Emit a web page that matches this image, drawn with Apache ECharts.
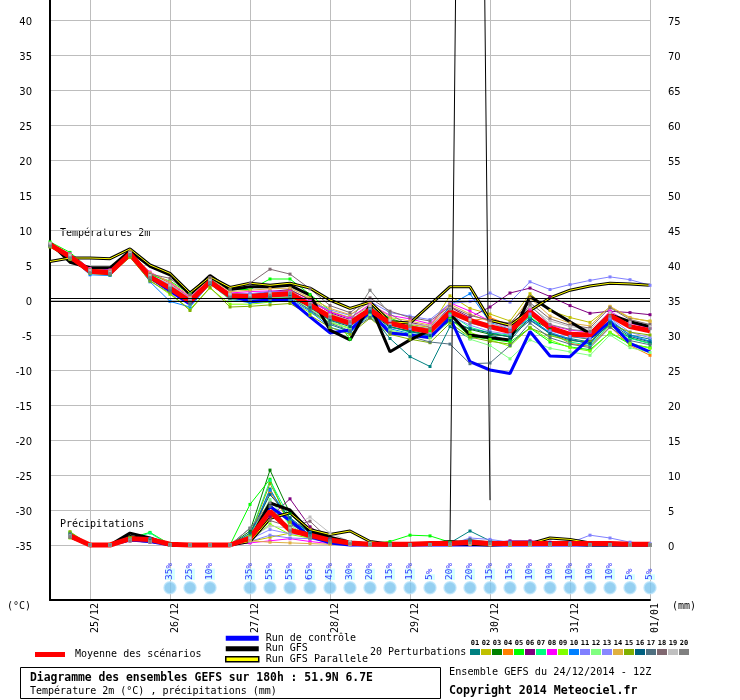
<!DOCTYPE html>
<html>
<head>
<meta charset="utf-8">
<script src="https://cdn.jsdelivr.net/npm/echarts@6/dist/echarts.min.js"></script>
<style>
  html, body { margin: 0; padding: 0; background: #fff; }
  #chart { width: 740px; height: 700px; }
</style>
</head>
<body>
<div id="chart"></div>
<script>
const FONT = 'DejaVu Sans Mono';

// echéances toutes les 6h depuis le 24/12 12Z
const steps = [
  '24/12 12h', '24/12 18h',
  '25/12 00h', '25/12 06h', '25/12 12h', '25/12 18h',
  '26/12 00h', '26/12 06h', '26/12 12h', '26/12 18h',
  '27/12 00h', '27/12 06h', '27/12 12h', '27/12 18h',
  '28/12 00h', '28/12 06h', '28/12 12h', '28/12 18h',
  '29/12 00h', '29/12 06h', '29/12 12h', '29/12 18h',
  '30/12 00h', '30/12 06h', '30/12 12h', '30/12 18h',
  '31/12 00h', '31/12 06h', '31/12 12h', '31/12 18h',
  '01/01 00h'
];
const tempTicks = [-35, -30, -25, -20, -15, -10, -5, 0, 5, 10, 15, 20, 25, 30, 35, 40];
const precTicks = [0, 5, 10, 15, 20, 25, 30, 35, 40, 45, 50, 55, 60, 65, 70, 75];

const pertColors = ['#008080', '#c0c000', '#008000', '#ff8000', '#00ff00', '#800080', '#00ff80',
  '#ff00ff', '#80ff00', '#0080ff', '#8080ff', '#80ff80', '#8888ff', '#e0b040', '#80b000',
  '#006080', '#507080', '#806870', '#c0c0c0', '#808080'];

// températures 2m (°C)
const tMean = [7.9, 6.2, 4.1, 3.9, 6.6, 3.3, 1.7, -0.2, 2.6, 0.6, 0.5, 0.7, 0.9, -0.7, -2.4, -3.3, -1.4, -3.3, -4.0, -4.5, -1.7, -2.9, -3.8, -4.5, -1.7, -4.0, -4.9, -5.0, -2.2, -3.8, -4.4];
const tCtrl = [7.9, 6.0, 4.2, 3.8, 6.6, 3.2, 1.3, -0.6, 2.8, 0.6, -0.2, 0.0, 0.0, -2.4, -4.7, -4.3, -1.7, -4.7, -5.0, -5.4, -2.5, -8.8, -10.0, -10.5, -4.5, -8.0, -8.1, -5.4, -3.1, -6.2, -7.4];
const tGfs = [8.2, 5.4, 4.6, 4.6, 7.0, 4.8, 3.6, 0.8, 3.5, 1.5, 1.9, 1.9, 2.1, 0.7, -4.3, -5.7, -0.7, -7.4, -5.7, -4.3, -2.0, -5.0, -5.4, -5.7, 0.5, -1.4, -3.1, -4.8, -2.1, -3.1, -3.8];
const tGfsP = [5.5, 6.0, 6.0, 5.9, 7.3, 5.0, 3.8, 1.0, 3.3, 1.8, 2.4, 2.1, 2.4, 1.7, 0.0, -1.2, -0.3, -3.1, -3.3, -0.7, 1.9, 1.9, -2.9, -3.6, -1.5, 0.3, 1.4, 2.0, 2.4, 2.3, 2.1];
const tPerts = [
  [7.8, 6.3, 4.0, 3.8, 6.5, 3.0, 1.2, -0.5, 2.4, 0.3, 0.0, 0.5, 0.6, -1.5, -3.5, -4.5, -2.0, -5.5, -8.1, -9.5, -3.8, -5.5, -5.0, -5.8, -2.5, -4.8, -5.5, -6.0, -3.0, -5.0, -5.6],
  [8.0, 6.4, 4.3, 4.2, 6.8, 3.8, 2.4, 0.3, 2.9, 0.9, 0.8, 1.0, 1.3, 0.2, -1.6, -2.5, -0.9, -2.8, -3.5, -3.9, 0.6, -1.2, -2.0, -3.0, 0.9, -1.5, -2.5, -3.2, -1.0, -2.6, -3.0],
  [7.7, 6.0, 4.1, 3.7, 6.4, 3.4, 1.9, -0.4, 2.5, 0.2, 0.3, 0.2, 0.4, -1.0, -2.8, -3.6, -1.8, -3.9, -4.4, -5.0, -3.0, -4.2, -4.9, -5.2, -2.6, -4.2, -5.2, -5.6, -3.6, -5.4, -6.2],
  [7.9, 6.2, 4.2, 4.0, 6.7, 3.5, 2.0, -0.1, 2.7, 0.8, 0.6, 1.1, 1.4, -0.5, -2.0, -3.0, -1.0, -3.5, -3.9, -4.6, -0.8, -3.0, -2.5, -3.6, -1.2, -4.6, -6.2, -6.6, -3.8, -6.5, -7.9],
  [8.3, 6.8, 4.4, 3.6, 6.3, 3.6, 2.7, 0.9, 3.0, 1.5, 1.5, 3.0, 3.0, 0.8, -1.5, -5.6, -1.0, -2.6, -3.6, -4.4, -2.6, -5.2, -5.6, -6.0, -4.0, -6.0, -6.7, -7.1, -4.7, -6.3, -6.8],
  [7.8, 6.1, 4.0, 3.9, 6.6, 3.2, 1.5, -0.3, 2.6, 0.5, 0.7, 1.2, 1.5, 0.0, -1.8, -2.8, -1.2, -3.0, -3.2, -3.8, -1.0, -2.5, -1.0, 1.0, 1.7, 0.5, -0.8, -1.9, -1.6, -1.8, -2.1],
  [8.1, 6.5, 4.3, 4.1, 6.6, 3.4, 1.8, 0.1, 2.7, 0.7, 0.4, 0.6, 0.8, -1.1, -2.7, -3.6, -1.3, -3.8, -4.6, -4.9, -2.0, -3.9, -4.7, -5.0, -2.3, -4.9, -6.0, -6.5, -3.5, -5.5, -6.2],
  [8.0, 6.6, 4.5, 4.3, 6.8, 4.0, 2.5, 0.4, 2.9, 1.0, 1.2, 1.3, 1.2, -0.2, -1.7, -2.6, -0.6, -2.2, -2.7, -3.4, -0.4, -1.6, -3.0, -3.9, -1.3, -3.6, -4.3, -4.6, -1.6, -3.3, -4.0],
  [7.6, 5.9, 3.9, 3.6, 6.2, 2.8, 0.8, -1.3, 1.7, -0.6, -0.6, -0.3, -0.1, -1.8, -3.2, -4.0, -2.3, -4.5, -5.0, -5.4, -2.8, -4.6, -5.7, -6.6, -3.9, -5.7, -6.8, -7.3, -4.6, -6.2, -6.9],
  [7.9, 6.1, 3.6, 3.5, 6.4, 2.6, -0.2, -1.0, 2.3, 0.1, -0.4, -0.2, 0.1, -1.6, -3.9, -4.7, -2.1, -4.1, -4.8, -5.2, -0.7, 0.9, -3.2, -4.2, -2.8, -4.6, -5.6, -6.3, -2.8, -5.0, -5.9],
  [8.0, 6.3, 4.2, 4.0, 6.7, 3.6, 2.2, 0.2, 2.8, 0.9, 0.9, 1.2, 1.1, -0.3, -1.4, -2.2, -0.2, -1.8, -2.3, -2.8, -0.5, -0.2, 1.0, -0.3, 2.6, 1.5, 2.2, 2.8, 3.3, 2.9, 2.1],
  [7.7, 6.0, 3.9, 3.8, 6.5, 3.1, 1.6, -0.7, 2.4, 0.0, 0.1, 0.3, 0.4, -1.3, -3.0, -4.2, -2.2, -4.3, -4.9, -5.3, -3.1, -5.6, -6.5, -8.4, -5.7, -6.9, -7.4, -7.9, -5.0, -6.8, -7.5],
  [7.8, 6.2, 4.1, 3.9, 6.6, 3.3, 1.8, 0.0, 2.6, 0.4, 0.2, 0.5, 0.7, -0.9, -2.6, -3.4, -1.4, -3.6, -4.2, -4.8, -2.2, -3.6, -4.5, -4.9, -2.0, -4.4, -5.2, -5.5, -2.6, -4.6, -5.4],
  [8.1, 6.5, 4.4, 4.2, 6.9, 3.9, 2.6, 0.6, 3.1, 1.2, 1.4, 1.6, 1.7, 0.3, -1.2, -2.1, -0.3, -2.5, -3.0, -3.6, -0.6, -2.0, -3.1, -3.6, 0.3, -2.3, -3.3, -3.7, -0.9, -2.5, -3.1],
  [7.6, 5.8, 3.8, 3.6, 6.1, 2.7, 1.0, -1.5, 1.8, -1.0, -0.9, -0.7, -0.5, -2.2, -3.9, -4.9, -2.6, -4.9, -5.6, -6.1, -3.3, -5.3, -5.9, -6.3, -4.0, -5.1, -5.8, -6.0, -3.4, -4.6, -5.0],
  [7.9, 6.2, 4.1, 3.9, 6.6, 3.3, 1.6, -0.3, 2.6, 0.5, 0.3, 0.5, 0.8, -1.1, -2.9, -3.8, -1.6, -3.8, -4.5, -5.1, -2.9, -4.1, -4.7, -5.3, -2.9, -4.8, -5.7, -6.2, -3.3, -5.2, -6.0],
  [7.8, 6.1, 4.0, 3.7, 6.4, 3.0, 1.3, -0.6, 2.3, 0.2, -0.1, 0.2, 0.3, -1.4, -3.3, -4.4, -2.5, -4.6, -5.2, -6.0, -6.3, -9.1, -9.0, -6.5, -3.3, -5.4, -6.3, -6.8, -3.9, -5.8, -6.4],
  [8.0, 6.4, 4.3, 4.1, 6.8, 3.7, 3.1, 0.8, 3.2, 1.5, 2.4, 4.4, 3.7, 1.6, -0.8, -1.8, 0.3, -1.6, -2.5, -3.0, -0.9, -2.2, -2.9, -3.3, -0.4, -2.7, -3.6, -4.0, -1.1, -2.8, -3.5],
  [8.1, 6.4, 4.2, 4.0, 6.7, 3.5, 2.1, 0.2, 2.8, 0.8, 0.6, 0.9, 1.0, -0.4, -2.1, -2.9, -0.8, -2.9, -3.4, -3.7, -1.2, -2.8, -3.4, -3.9, -1.0, -3.0, -3.8, -4.2, -1.8, -3.2, -3.8],
  [7.7, 6.0, 3.9, 3.8, 6.5, 3.2, 1.7, -0.2, 2.5, 0.4, 0.3, 0.7, 1.0, -0.6, -2.4, -3.1, 1.4, -2.0, -3.7, -4.1, -1.3, -3.3, -4.0, -4.4, -0.7, -3.5, -4.2, -4.5, -2.3, -3.7, -4.1]
];

// précipitations (mm / 6h)
const pMean = [null, 1.3, 0, 0, 0.9, 0.8, 0.1, 0, 0, 0, 1.0, 4.8, 2.1, 1.4, 0.7, 0.3, 0.1, 0.1, 0.1, 0.2, 0.2, 0.4, 0.2, 0.2, 0.2, 0.2, 0.2, 0.2, 0.2, 0.1, 0.1];
const pCtrl = [null, 1.2, 0, 0, 0.7, 0.5, 0, 0, 0, 0, 0.9, 5.5, 3.5, 1.2, 0.3, 0, 0, 0, 0, 0, 0, 0, 0, 0, 0, 0, 0, 0, 0, 0, 0];
const pGfs = [null, 1.4, 0, 0, 1.7, 1.0, 0, 0, 0, 0, 0.8, 6.0, 5.0, 1.9, 1.1, 0.4, 0.1, 0, 0, 0.2, 0.5, 0.3, 0.2, 0.2, 0.3, 0.2, 0.1, 0, 0, 0, 0];
const pGfsP = [null, 1.2, 0, 0, 1.2, 0.8, 0, 0, 0, 0, 0.5, 3.8, 4.6, 2.2, 1.5, 2.0, 0.5, 0.1, 0.1, 0.1, 0.2, 0.1, 0, 0.1, 0.2, 1.0, 0.8, 0.3, 0.2, 0.1, 0.1];
const pSpike = [null, null, null, null, null, null, null, null, null, null, null, null, null, null, null, null, null, null, null, null, 0.7, 280, 6.4, null, null, null, null, null, null, null, null];
const pPerts = [
  [null, 1.3, 0, 0, 0.8, 0.6, 0.1, 0, 0, 0, 1.2, 8.0, 3.0, 1.5, 0.9, 0.5, 0.3, 0.2, 0.1, 0.1, 0.3, 2.0, 0.6, 0.3, 0.2, 0.1, 0.1, 0, 0.1, 0, 0],
  [null, 1.5, 0, 0, 0.6, 0.4, 0, 0, 0, 0, 0.5, 1.1, 1.7, 2.5, 0.6, 0.2, 0.1, 0, 0, 0, 0.1, 0.3, 0.2, 0.1, 0.1, 0.1, 0, 0, 0, 0, 0],
  [null, 1.1, 0, 0, 0.9, 0.7, 0, 0, 0, 0, 2.0, 10.7, 4.5, 1.6, 0.5, 0.2, 0.1, 0, 0, 0, 0, 0.2, 0.1, 0.1, 0, 0, 0, 0, 0, 0, 0],
  [null, 1.2, 0, 0.1, 0.8, 0.6, 0, 0, 0, 0, 0.8, 7.6, 3.2, 1.3, 0.4, 0.2, 0, 0, 0, 0, 0.1, 0.1, 0.1, 0, 0, 0.1, 0, 0, 0, 0, 0],
  [null, 1.8, 0, 0, 1.0, 1.8, 0.1, 0, 0, 0, 5.8, 9.4, 2.5, 0.9, 0.6, 0.3, 0.2, 0.5, 1.4, 1.3, 0.4, 0.3, 0.1, 0.1, 0.1, 0, 0, 0, 0, 0, 0],
  [null, 1.4, 0, 0, 0.7, 0.5, 0, 0, 0, 0, 0.4, 4.0, 6.6, 2.6, 0.8, 0.3, 0.1, 0.1, 0, 0, 0.1, 0.2, 0.3, 0.6, 0.6, 0.4, 0.2, 0.1, 0.1, 0, 0],
  [null, 1.6, 0, 0, 0.9, 1.7, 0, 0, 0, 0, 1.5, 9.2, 3.8, 1.4, 0.5, 0.3, 0.1, 0, 0, 0, 0.1, 0.4, 0.2, 0.1, 0.1, 0, 0, 0, 0, 0, 0],
  [null, 1.2, 0, 0, 0.6, 0.4, 0, 0, 0, 0, 0.3, 0.6, 0.9, 0.5, 0.2, 0.1, 0, 0, 0, 0, 0, 0.2, 0.1, 0, 0, 0, 0, 0, 0, 0, 0],
  [null, 1.0, 0, 0, 0.7, 0.5, 0, 0, 0, 0, 0.6, 3.0, 1.5, 1.0, 0.4, 0.2, 0.1, 0, 0, 0, 0.1, 0.2, 0.1, 0, 0, 0.1, 0.1, 0, 0, 0, 0],
  [null, 1.4, 0, 0, 0.8, 0.9, 0, 0, 0, 0, 1.1, 7.8, 3.6, 1.8, 0.6, 0.3, 0.1, 0, 0, 0, 0.1, 0.5, 0.3, 0.1, 0, 0, 0, 0, 0, 0, 0],
  [null, 1.3, 0, 0, 0.7, 0.6, 0, 0, 0, 0, 0.5, 1.4, 1.0, 0.9, 0.3, 0.1, 0, 0, 0, 0, 0.1, 1.0, 0.8, 0.4, 0.3, 0.2, 0.3, 1.4, 1.0, 0.4, 0.2],
  [null, 1.5, 0, 0, 0.9, 0.6, 0, 0, 0, 0, 1.3, 6.5, 2.8, 1.2, 0.4, 0.2, 0.1, 0, 0, 0, 0, 0.2, 0.1, 0, 0, 0, 0, 0, 0, 0, 0],
  [null, 1.2, 0, 0, 0.6, 0.4, 0, 0, 0, 0, 0.8, 2.2, 1.6, 1.4, 0.5, 0.2, 0.1, 0, 0, 0, 0.1, 0.4, 0.3, 0.2, 0.1, 0.1, 0, 0, 0, 0, 0],
  [null, 1.3, 0, 0, 0.8, 0.6, 0, 0, 0, 0, 0.6, 0.4, 0.3, 0.2, 0.1, 0.1, 0, 0, 0, 0, 0, 0.1, 0, 0, 0, 0, 0, 0, 0, 0, 0],
  [null, 1.9, 0, 0, 0.9, 0.7, 0, 0, 0, 0, 1.4, 8.8, 3.3, 1.1, 0.3, 0.2, 0, 0, 0, 0, 0, 0.2, 0.1, 0, 0, 0, 0, 0, 0, 0, 0],
  [null, 1.4, 0, 0, 0.7, 0.6, 0, 0, 0, 0, 1.7, 7.2, 3.9, 1.7, 0.6, 0.3, 0.1, 0, 0, 0, 0.2, 0.6, 0.2, 0.1, 0.1, 0, 0, 0, 0, 0, 0],
  [null, 1.6, 0, 0, 0.8, 0.5, 0, 0, 0, 0, 2.4, 5.5, 2.2, 1.3, 0.5, 0.4, 0.2, 0.1, 0, 0, 0.3, 0.8, 0.4, 0.3, 0.4, 0.2, 0.1, 0.1, 0, 0, 0],
  [null, 1.1, 0, 0, 0.6, 0.4, 0, 0, 0, 0, 0.9, 3.5, 2.6, 3.4, 0.7, 0.3, 0.1, 0, 0, 0, 0.1, 0.3, 0.2, 0.1, 0.1, 0, 0, 0, 0, 0, 0],
  [null, 1.3, 0, 0, 0.7, 0.5, 0, 0, 0, 0, 1.0, 2.7, 2.4, 4.0, 1.7, 0.5, 0.2, 0, 0, 0, 0.1, 0.2, 0.1, 0.1, 0, 0, 0, 0, 0, 0, 0],
  [null, 1.2, 0, 0, 0.6, 0.5, 0, 0, 0, 0, 2.4, 6.0, 2.0, 1.0, 0.4, 0.2, 0.1, 0, 0, 0, 0.1, 0.3, 0.2, 0.1, 0.1, 0.1, 0, 0, 0, 0, 0]
];

// probabilité de neige (%)
const snowPct = [null, null, null, null, null, null, 35, 25, 10, null, 35, 55, 55, 65, 45, 30, 20, 15, 15, 5, 20, 20, 15, 15, 10, 10, 10, 10, 10, 5, 5];
const SNOW_ROW = -41.1; // ligne des pictos sous le graphe (en °C)

const chart = echarts.init(document.getElementById('chart'));

const line = (name, data, color, width, axis, marks) => ({
  name: name,
  type: 'line',
  data: data,
  yAxisIndex: axis,
  symbol: marks ? 'rect' : 'none',
  symbolSize: 3,
  showAllSymbol: true,
  lineStyle: { color: color, width: width },
  itemStyle: { color: color },
  emphasis: { disabled: true },
  silent: true,
  animation: false
});

const series = [];
tPerts.forEach((d, i) => series.push(line('P' + (i + 1), d, pertColors[i], 1, 0, true)));
pPerts.forEach((d, i) => series.push(line('P' + (i + 1), d, pertColors[i], 1, 1, true)));
// ligne du 0°C
series[0].markLine = {
  silent: true, symbol: 'none', label: { show: false }, animation: false,
  lineStyle: { color: '#000', width: 1.2, type: 'solid' },
  data: [{ yAxis: 0.22 }, { yAxis: -0.22 }]
};
series.push(line('Run de contrôle', tCtrl, '#0000ff', 3, 0));
series.push(line('Run de contrôle', pCtrl, '#0000ff', 3, 1));
series.push(line('Run GFS', tGfs, '#000000', 3, 0));
series.push(line('Run GFS', pGfs, '#000000', 3, 1));
series.push(line('Run GFS Parallele', tGfsP, '#000000', 3, 0));
series.push(line('Run GFS Parallele', pGfsP, '#000000', 3, 1));
series.push(line('Run GFS Parallele', tGfsP, '#ffff00', 1, 0));
series.push(line('Run GFS Parallele', pGfsP, '#ffff00', 1, 1));
series.push(line('spike', pSpike, '#000000', 1, 1));
series.push(line('Moyenne des scénarios', tMean, '#ff0000', 5, 0));
series.push(line('Moyenne des scénarios', pMean, '#ff0000', 5, 1));

series.push({
  name: 'neige',
  type: 'scatter',
  yAxisIndex: 0,
  symbol: 'circle',
  symbolSize: 12,
  itemStyle: { color: '#7cc4ee', borderColor: '#b8e4fb', borderWidth: 1.5 },
  silent: true,
  animation: false,
  data: snowPct.map((p, i) => p == null ? null : { value: [i, SNOW_ROW], pct: p }),
  label: {
    show: true,
    position: 'top',
    distance: 1,
    rotate: 90,
    align: 'left',
    verticalAlign: 'middle',
    formatter: (p) => '{n|' + p.data.pct + '}{s|%}',
    rich: {
      n: { color: '#0000ff', fontFamily: FONT, fontSize: 9.5, backgroundColor: '#ccffff' },
      s: { color: '#0000ff', fontFamily: FONT, fontSize: 9.5 }
    }
  }
});

const txt = (x, y, text, size, bold) => ({
  type: 'text', x: x, y: y, silent: true,
  style: { text: text, font: (bold ? 'bold ' : '') + size + 'px "' + FONT + '"', fill: '#000', verticalAlign: 'middle' }
});

const graphics = [
  txt(7, 606, '(°C)', 10),
  txt(672, 606, '(mm)', 10),
  txt(60, 233, 'Températures 2m', 10),
  txt(60, 524, 'Précipitations', 10),
  txt(370, 652, '20 Perturbations', 10),
  { type: 'rect', silent: true, shape: { x: 20.5, y: 667.5, width: 420, height: 31 },
    style: { fill: 'none', stroke: '#000', lineWidth: 1 } },
  txt(30, 678, 'Diagramme des ensembles GEFS sur 180h : 51.9N 6.7E', 11.4, true),
  txt(30, 691, 'Température 2m (°C) , précipitations (mm)', 10),
  txt(449, 672, 'Ensemble GEFS du 24/12/2014 - 12Z', 10.2),
  txt(449, 691, 'Copyright 2014 Meteociel.fr', 11.6, true)
];
pertColors.forEach((c, i) => {
  graphics.push({ type: 'rect', silent: true, shape: { x: 470 + i * 11, y: 649, width: 10, height: 6 }, style: { fill: c } });
  const t = txt(475 + i * 11, 643, String(i + 1).padStart(2, '0'), 7, true);
  t.style.align = 'center';
  graphics.push(t);
});

chart.setOption({
  animation: false,
  backgroundColor: '#fff',
  textStyle: { fontFamily: FONT },
  grid: { left: 50, right: 90, top: 0, bottom: 100, containLabel: false, outerBoundsMode: 'none' },
  legend: [
    {
      data: ['Moyenne des scénarios'],
      left: 35, top: 649.5, padding: 0,
      icon: 'rect', itemWidth: 30, itemHeight: 5,
      selectedMode: false,
      textStyle: { fontFamily: FONT, fontSize: 10, color: '#000', padding: [0, 0, 0, 5] }
    },
    {
      data: ['Run de contrôle', 'Run GFS',
        { name: 'Run GFS Parallele', itemStyle: { color: '#ffff00', borderColor: '#000', borderWidth: 1.5 } }],
      left: 225, top: 633, padding: 0,
      orient: 'vertical',
      icon: 'rect', itemWidth: 33, itemHeight: 5, itemGap: 0,
      selectedMode: false,
      textStyle: { fontFamily: FONT, fontSize: 10, color: '#000', lineHeight: 10.5, padding: [0, 0, 0, 2] }
    }
  ],
  xAxis: {
    type: 'category',
    data: steps,
    boundaryGap: false,
    axisLine: { onZero: false, lineStyle: { color: '#000', width: 2 } },
    axisTick: { show: false },
    axisLabel: {
      interval: (i) => i % 4 === 2,
      rotate: 90,
      margin: 3,
      verticalAlign: 'top',
      color: '#000',
      fontFamily: FONT,
      fontSize: 10,
      formatter: (v) => v.slice(6) === '00h' ? v.slice(0, 5) : ''
    },
    splitLine: {
      show: true,
      interval: (i) => i % 4 === 2,
      lineStyle: { color: '#bdbdbd', width: 1 }
    }
  },
  yAxis: [
    {
      type: 'value',
      min: -300 / 7,
      max: 300 / 7,
      axisLine: { show: true, lineStyle: { color: '#000', width: 2 } },
      axisTick: { show: false, customValues: tempTicks },
      axisLabel: { customValues: tempTicks, margin: 18, color: '#000', fontFamily: 'DejaVu Sans', fontSize: 10, verticalAlign: 'top', lineHeight: 5 },
      splitLine: { show: true, lineStyle: { color: '#bdbdbd', width: 1 } }
    },
    {
      type: 'value',
      position: 'right',
      min: -300 / 7 + 35,
      max: 300 / 7 + 35,
      axisLine: { show: false },
      axisTick: { show: false, customValues: precTicks },
      axisLabel: { customValues: precTicks, margin: 18, color: '#000', fontFamily: 'DejaVu Sans', fontSize: 10, verticalAlign: 'top', lineHeight: 5 },
      splitLine: { show: false }
    }
  ],
  graphic: graphics,
  series: series
});
</script>
</body>
</html>
